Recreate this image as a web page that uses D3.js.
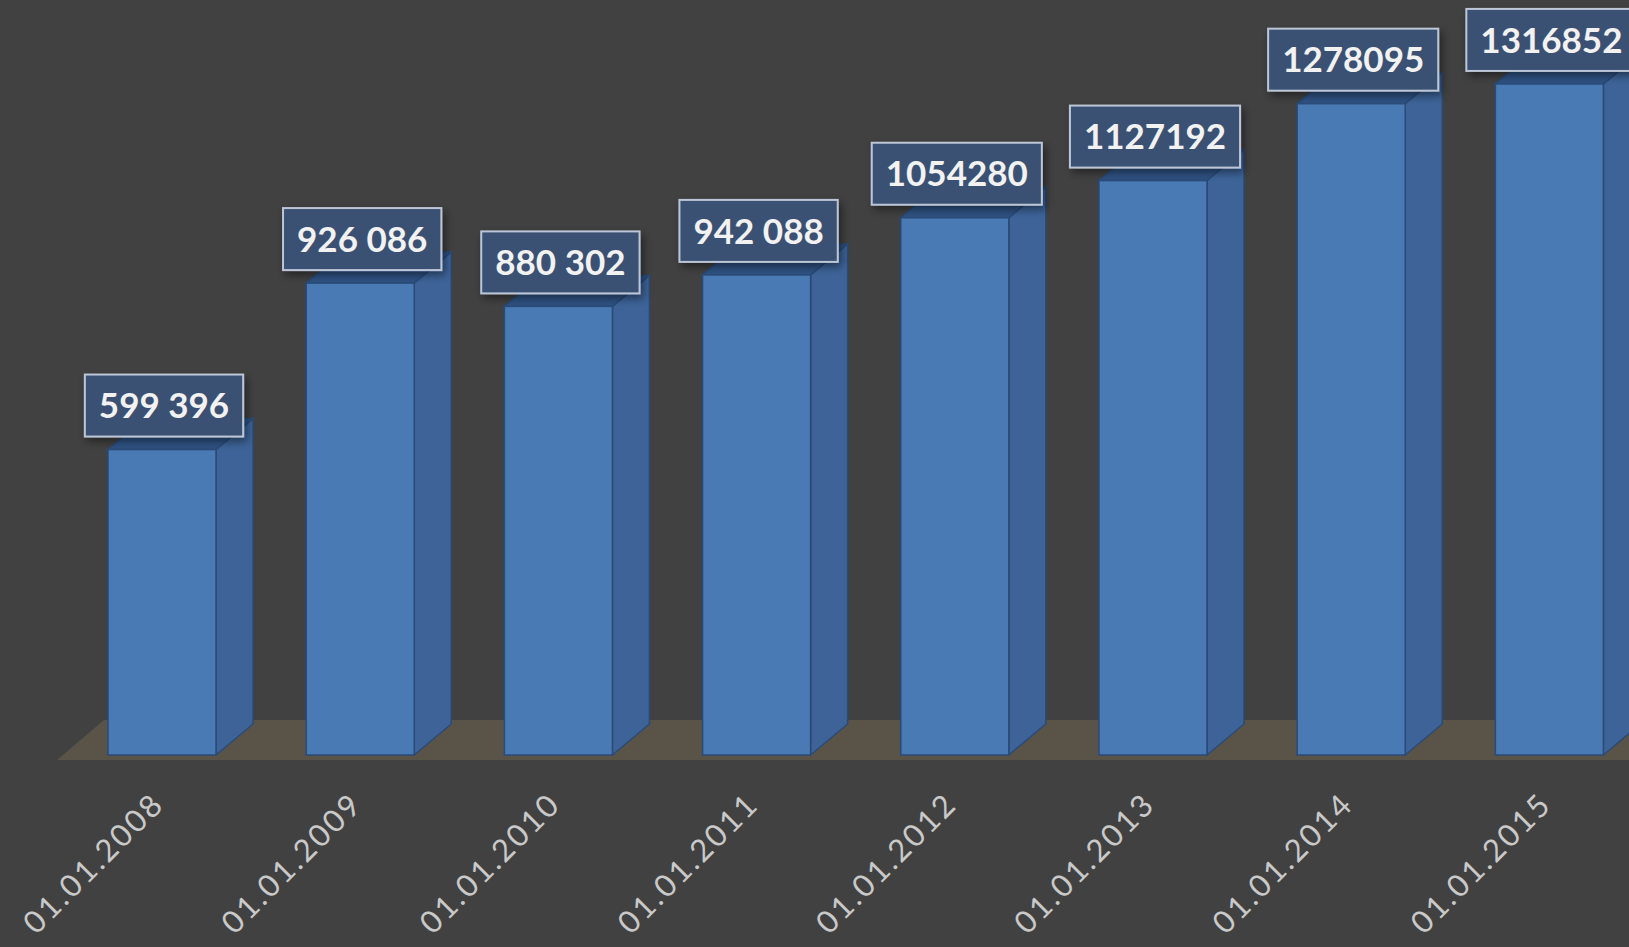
<!DOCTYPE html>
<meta charset="utf-8">
<script src="https://d3js.org/d3.v7.min.js"></script>
<style>
  body { margin: 0; background: #414141; }
</style>
<div id="my_dataviz"></div>
<script>

// data
var dates = ["01.01.2008", "01.01.2009", "01.01.2010", "01.01.2011",
             "01.01.2012", "01.01.2013", "01.01.2014", "01.01.2015"];
var values = [599396, 926086, 880302, 942088, 1054280, 1127192, 1278095, 1316852];
var valueLabels = ["599 396", "926 086", "880 302", "942 088",
                   "1054280", "1127192", "1278095", "1316852"];

var width = 1629, height = 947;
var base = 755;          // floor line of the bar fronts
var dx = 37, dy = 31;    // 3d depth of a bar

var svg = d3.select("#my_dataviz")
  .append("svg")
    .attr("width", width)
    .attr("height", height)
    .style("display", "block");

svg.append("rect").attr("width", width).attr("height", height).attr("fill", "#414141");

var x = d3.scaleBand()
  .domain(dates)
  .range([108, 1603.4])
  .paddingInner(0.455)
  .paddingOuter(0);

var y = d3.scaleLinear()
  .domain([0, 1400000])
  .range([base, base - 1400000 * 5.096e-4]);

// shadow filter for the label boxes
var defs = svg.append("defs");
var f = defs.append("filter").attr("id", "shadow").attr("x", "-20%").attr("y", "-20%").attr("width", "150%").attr("height", "160%");
f.append("feDropShadow").attr("dx", 3).attr("dy", 4).attr("stdDeviation", 4).attr("flood-color", "#000").attr("flood-opacity", 0.45);

// floor
svg.append("path")
  .attr("d", "M57," + (base + 5) + " L" + (width + 10) + "," + (base + 5) +
             " L" + (width + 10) + "," + (base - 35) + " L104," + (base - 35) + " Z")
  .attr("fill", "#5a5448");

var bw = x.bandwidth();

// bars
var bars = svg.selectAll(".bar")
  .data(values)
  .enter().append("g")
    .attr("class", "bar");

// side face
bars.append("path")
  .attr("d", function(d, i) {
    var x1 = x(dates[i]) + bw, yt = y(d);
    return "M" + x1 + "," + base + " L" + (x1 + dx) + "," + (base - dy) +
           " L" + (x1 + dx) + "," + (yt - dy) + " L" + x1 + "," + yt + " Z";
  })
  .attr("fill", "#3d6398")
  .attr("stroke", "#2a4b78")
  .attr("stroke-width", 1.5)
  .attr("stroke-linejoin", "round");

// top face
bars.append("path")
  .attr("d", function(d, i) {
    var x0 = x(dates[i]), yt = y(d);
    return "M" + x0 + "," + yt + " L" + (x0 + dx) + "," + (yt - dy) +
           " L" + (x0 + bw + dx) + "," + (yt - dy) + " L" + (x0 + bw) + "," + yt + " Z";
  })
  .attr("fill", "#2f5283")
  .attr("stroke", "#2a4b78")
  .attr("stroke-width", 1.5);

// front face
bars.append("rect")
  .attr("x", function(d, i) { return x(dates[i]); })
  .attr("y", function(d) { return y(d); })
  .attr("width", bw)
  .attr("height", function(d) { return base - y(d); })
  .attr("fill", "#4a7ab4")
  .attr("stroke", "#2a4b78")
  .attr("stroke-width", 1.5);

// value labels
var labels = svg.selectAll(".lbl")
  .data(values)
  .enter().append("g")
    .attr("class", "lbl")
    .attr("transform", function(d, i) {
      return "translate(" + (x(dates[i]) + bw / 2 + 2) + "," + (y(d) - 13 - 31) + ")";
    });

labels.append("text")
  .attr("text-anchor", "middle")
  .attr("dy", "0.36em")
  .style("font-family", "Lato, 'Open Sans', sans-serif")
  .style("font-weight", "bold")
  .style("font-size", "35px")
  .attr("fill", "#f2f2f2")
  .text(function(d, i) { return valueLabels[i]; });

labels.each(function() {
  var g = d3.select(this);
  var w = g.select("text").node().getComputedTextLength() + 28;
  g.insert("rect", "text")
    .attr("x", -w / 2)
    .attr("y", -31)
    .attr("width", w)
    .attr("height", 62)
    .attr("fill", "#3a5173")
    .attr("stroke", "#bcc6d6")
    .attr("stroke-width", 2)
    .attr("filter", "url(#shadow)");
});

// category labels
svg.selectAll(".xlab")
  .data(dates)
  .enter().append("text")
    .attr("class", "xlab")
    .attr("transform", function(d) { return "translate(" + (x(d) + bw / 2 + 4) + ",806) rotate(-45)"; })
    .attr("text-anchor", "end")
    .style("font-family", "Lato, 'Open Sans', sans-serif")
    .style("font-size", "31px")
    .style("letter-spacing", "2.5px")
    .attr("fill", "#c9c9c9")
    .text(function(d) { return d; });

</script>
